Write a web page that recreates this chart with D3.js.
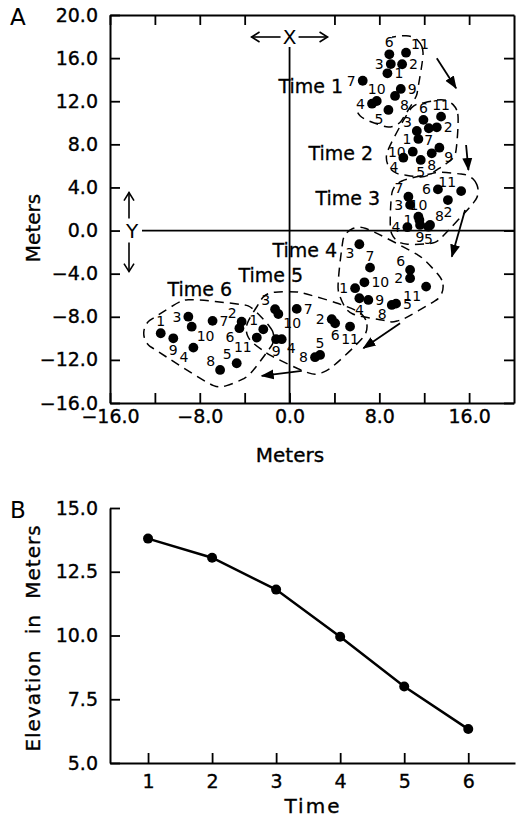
<!DOCTYPE html>
<html>
<head>
<meta charset="utf-8">
<script src="https://cdn.jsdelivr.net/npm/d3@7"></script>
<style>
  body { margin: 0; background: #fff; }
  svg { display: block; font-family: "DejaVu Sans", sans-serif; }
  text { fill: #000; }
</style>
</head>
<body>
<div id="c"></div>
<script>
"use strict";

// panel A: positions (meters) of the 11 numbered points at each time, id 1..11
const time1 = [[8.72,14.59],[10.03,15.43],[9.02,15.45],[7.35,11.77],[8.81,11.19],[8.89,16.35],
               [6.52,13.9],[9.4,12.49],[9.91,13.14],[7.77,12.02],[10.38,16.5]]
const time2 = [[11.48,8.5],[13.12,9.58],[11.34,9.24],[10.14,6.76],[11.69,6.55],[11.93,10.27],
               [12.41,9.49],[12.67,7.17],[13.35,7.69],[10.98,7.32],[13.5,10.57]]
const time3 = [[11.57,0.98],[14.11,2.83],[10.74,2.38],[10.5,0.31],[12.37,0.36],[13.22,3.82],
               [10.59,3.14],[12.52,0.52],[11.63,0.52],[11.48,1.29],[15.29,3.66]]
const time4 = [[5.84,-5.35],[10.74,-4.42],[6.22,-1.27],[6.22,-6.28],[9.49,-6.78],[10.74,-3.65],
               [7.17,-3.44],[9.11,-6.9],[7.02,-6.44],[6.67,-4.8],[12.17,-5.2]]
const time5 = [[-2.34,-9.16],[3.76,-8.23],[-1.29,-7.3],[-0.7,-10.08],[2.72,-11.54],[4.06,-8.6],
               [0.64,-7.27],[2.27,-11.75],[-1.2,-10.08],[-1.0,-7.74],[5.39,-8.91]]
const time6 = [[-11.48,-9.53],[-4.27,-8.45],[-9.02,-7.99],[-8.57,-10.86],[-4.71,-12.31],[-4.47,-9.06],
               [-6.86,-8.38],[-6.19,-12.93],[-10.36,-10.0],[-8.72,-8.92],[-2.92,-9.93]]
const clusters = [time1, time2, time3, time4, time5, time6]
const timeNames = ["Time 1", "Time 2", "Time 3", "Time 4", "Time 5", "Time 6"]

// where each "Time n" caption ends (meters)
const timeLabelAt = [[4.77,12.76],[7.44,6.55],[8.07,2.37],[4.23,-2.45],[1.2,-4.77],[-5.12,-6.07]]
// movement arrows between clusters (meters)
const moveArrows = [
  [[13.12,15.98],[14.84,13.21]],
  [[15.73,7.94],[15.94,5.62]],
  [[15.64,1.91],[14.46,-2.42]],
  [[9.85,-8.6],[6.58,-10.92]],
  [[1.09,-13.02],[-2.48,-13.48]]
]
// which side of its dot each number sits on (ids 1..11)
const labelSide = [
  ["e","e","w","w","sw","n","w","se","e","n","ne"],
  ["w","e","nw","sw","s","n","s","s","se","w","n"],
  ["w","s","w","w","s","w","nw","ne","s","n","nw"],
  ["w","w","sw","s","e","nw","n","sw","e","e","sw"],
  ["nw","w","nw","se","n","s","e","w","s","se","s"],
  ["n","nw","w","sw","nw","sw","e","nw","s","se","sw"]
]
const metersTicks = d3.range(-16, 21, 4)

// panel B
const times = [1, 2, 3, 4, 5, 6]
const elevation = [13.8, 13.05, 11.8, 9.95, 8.0, 6.33]
const elevTicks = [5.0, 7.5, 10.0, 12.5, 15.0]

window.onload = function() {
    let svg = d3.select('#c').append('svg')
        .attr('width', 523).attr('height', 820)

    let defs = svg.append('defs')
    defs.append('marker')
        .attr('id', 'head').attr('viewBox', '-12 -6 14 12')
        .attr('markerWidth', 14).attr('markerHeight', 12)
        .attr('markerUnits', 'userSpaceOnUse')
        .attr('refX', 0).attr('refY', 0).attr('orient', 'auto')
        .append('path').attr('d', 'M-12,-5L1,0L-12,5Z').attr('fill', '#000')
    defs.append('marker')
        .attr('id', 'open').attr('viewBox', '-10 -6 12 12')
        .attr('markerWidth', 12).attr('markerHeight', 12)
        .attr('markerUnits', 'userSpaceOnUse')
        .attr('refX', 0).attr('refY', 0).attr('orient', 'auto')
        .append('path').attr('d', 'M-8,-5L0,0L-8,5')
        .attr('fill', 'none').attr('stroke', '#000').attr('stroke-width', 1.6)
    // the first outline is left open at its upper left, as in the print
    let clip = defs.append('clipPath').attr('id', 'openTop')
    clip.append('rect').attr('x', 392).attr('y', 0).attr('width', 200).attr('height', 200)
    clip.append('rect').attr('x', 0).attr('y', 110).attr('width', 600).attr('height', 100)

    drawPanelA(svg)
    drawPanelB(svg)
}

function styleAxis(g, size) {
    g.attr('font-family', null).attr('font-size', size)
    g.select('.domain').attr('stroke-width', 2)
    g.selectAll('.tick line').attr('stroke-width', 1.8)
    g.selectAll('.tick text').attr('stroke', '#000').attr('stroke-width', 0.35)
}

function drawPanelA(svg) {
    const x = d3.scaleLinear().domain([-16, 20]).range([110, 514])
    const y = d3.scaleLinear().domain([-16, 20]).range([403, 15])
    const fmt = d3.format(".1f")
    let g = svg.append('g')

    g.append('g').attr('transform', 'translate(110,0)')
        .call(d3.axisLeft(y).tickValues(metersTicks).tickSizeInner(-10).tickSizeOuter(0)
            .tickPadding(12).tickFormat(fmt))
        .call(styleAxis, 19)
    g.append('g').attr('transform', 'translate(0,403)')
        .call(d3.axisBottom(x).tickValues(metersTicks.filter(v => v < 20)).tickSizeInner(-10)
            .tickSizeOuter(0).tickPadding(7)
            .tickFormat(d => d % 8 === 0 ? fmt(d) : ""))
        .call(styleAxis, 19)
    g.append('g').attr('transform', 'translate(0,15)')
        .call(d3.axisTop(x).tickValues(metersTicks.filter(v => v !== 0 && v < 20))
            .tickSizeInner(-10).tickSizeOuter(0).tickFormat(""))
        .call(styleAxis, 19)
    g.append('g').attr('transform', 'translate(514,0)')
        .call(d3.axisRight(y).tickValues(metersTicks.filter(v => v < 20))
            .tickSizeInner(-10).tickSizeOuter(0).tickFormat(""))
        .call(styleAxis, 19)

    // panel letter and axis titles
    g.append('text').attr('x', 10).attr('y', 25).attr('font-size', 23).text('A')
    g.append('text').attr('transform', 'translate(40,228) rotate(-90)')
        .attr('text-anchor', 'middle').attr('font-size', 20)
        .attr('stroke', '#000').attr('stroke-width', 0.35).text('Meters')
    g.append('text').attr('x', 290).attr('y', 462)
        .attr('text-anchor', 'middle').attr('font-size', 20)
        .attr('stroke', '#000').attr('stroke-width', 0.35).text('Meters')

    // zero lines with the X / Y markers
    const x0 = x(0), y0 = y(0)
    g.append('line').attr('x1', x0).attr('x2', x0).attr('y1', 47).attr('y2', 403)
        .attr('stroke', '#000').attr('stroke-width', 1.8)
    g.append('line').attr('x1', 142).attr('x2', 514).attr('y1', y0).attr('y2', y0)
        .attr('stroke', '#000').attr('stroke-width', 1.8)
    g.append('text').attr('x', x0).attr('y', 37).attr('dy', '0.36em')
        .attr('text-anchor', 'middle').attr('font-size', 20).text('X')
    g.append('text').attr('x', 132).attr('y', y0).attr('dy', '0.36em')
        .attr('text-anchor', 'middle').attr('font-size', 20).text('Y')
    let openArrow = (x1, y1, x2, y2) => g.append('line')
        .attr('x1', x1).attr('y1', y1).attr('x2', x2).attr('y2', y2)
        .attr('stroke', '#000').attr('stroke-width', 1.6).attr('marker-end', 'url(#open)')
    openArrow(x0 - 9, 37, x0 - 38, 37)
    openArrow(x0 + 9, 37, x0 + 38, 37)
    openArrow(129, y0 - 12, 129, y0 - 38)
    openArrow(129, y0 + 12, 129, y0 + 41)

    // dashed outline around every cluster
    const pad = 17
    clusters.forEach((pts, i) => {
        let ring = []
        pts.forEach(p => {
            for (let k = 0; k < 16; k++) {
                let a = k / 16 * 2 * Math.PI
                ring.push([x(p[0]) + pad * Math.cos(a), y(p[1]) + pad * Math.sin(a)])
            }
        })
        let hull = d3.polygonHull(ring)
        g.append('path')
            .attr('d', d3.line().curve(d3.curveCatmullRomClosed)(hull))
            .attr('fill', 'none').attr('stroke', '#000')
            .attr('stroke-width', 1.5).attr('stroke-dasharray', '9,6')
            .attr('clip-path', i === 0 ? 'url(#openTop)' : null)
    })

    // arrows between successive times
    moveArrows.forEach(a => {
        g.append('line')
            .attr('x1', x(a[0][0])).attr('y1', y(a[0][1]))
            .attr('x2', x(a[1][0])).attr('y2', y(a[1][1]))
            .attr('stroke', '#000').attr('stroke-width', 1.8)
            .attr('marker-end', 'url(#head)')
    })

    // time captions
    timeNames.forEach((t, i) => {
        g.append('text').attr('x', x(timeLabelAt[i][0])).attr('y', y(timeLabelAt[i][1]))
            .attr('text-anchor', 'end').attr('font-size', 19)
            .attr('stroke', '#000').attr('stroke-width', 0.3).text(t)
    })

    // points and their numbers
    const off = {n:[0,-12], s:[0,12], e:[7,0], w:[-7,0],
                 ne:[5,-9], nw:[-5,-9], se:[5,9], sw:[-5,9]}
    clusters.forEach((pts, i) => {
        let cg = g.append('g')
        cg.selectAll('circle').data(pts).enter().append('circle')
            .attr('cx', d => x(d[0])).attr('cy', d => y(d[1])).attr('r', 4.9)
            .attr('fill', '#000')
        cg.selectAll('text').data(pts).enter().append('text')
            .attr('x', (d, j) => x(d[0]) + off[labelSide[i][j]][0])
            .attr('y', (d, j) => y(d[1]) + off[labelSide[i][j]][1])
            .attr('dy', '0.36em').attr('font-size', 14)
            .attr('text-anchor', (d, j) => {
                let s = labelSide[i][j]
                return s.includes('e') ? 'start' : s.includes('w') ? 'end' : 'middle'
            })
            .text((d, j) => j + 1)
    })
}

function drawPanelB(svg) {
    const x = d3.scaleLinear().domain([0.406, 6.73]).range([110, 515])
    const y = d3.scaleLinear().domain([5, 15]).range([763, 508])
    let g = svg.append('g')

    g.append('g').attr('transform', 'translate(110,0)')
        .call(d3.axisLeft(y).tickValues(elevTicks).tickSizeInner(-10).tickSizeOuter(0)
            .tickPadding(12).tickFormat(d3.format(".1f")))
        .call(styleAxis, 19)
    g.append('g').attr('transform', 'translate(0,763)')
        .call(d3.axisBottom(x).tickValues(times).tickSizeInner(-10).tickSizeOuter(0)
            .tickPadding(12).tickFormat(d3.format("d")))
        .call(styleAxis, 19)

    g.append('text').attr('x', 10).attr('y', 518).attr('font-size', 23).text('B')
    g.append('text').attr('transform', 'translate(40,638) rotate(-90)')
        .attr('text-anchor', 'middle').attr('font-size', 20)
        .attr('stroke', '#000').attr('stroke-width', 0.35)
        .attr('letter-spacing', 1).attr('word-spacing', 8).text('Elevation in Meters')
    g.append('text').attr('x', 313).attr('y', 813)
        .attr('text-anchor', 'middle').attr('font-size', 20)
        .attr('stroke', '#000').attr('stroke-width', 0.35)
        .attr('letter-spacing', 2).text('Time')

    let pts = times.map((t, i) => [t, elevation[i]])
    g.append('path').datum(pts)
        .attr('fill', 'none').attr('stroke', '#000').attr('stroke-width', 2.5)
        .attr('d', d3.line().x(d => x(d[0])).y(d => y(d[1])))
    g.selectAll('circle.pt').data(pts).enter().append('circle')
        .attr('cx', d => x(d[0])).attr('cy', d => y(d[1])).attr('r', 5)
        .attr('fill', '#000')
}
</script>
</body>
</html>
